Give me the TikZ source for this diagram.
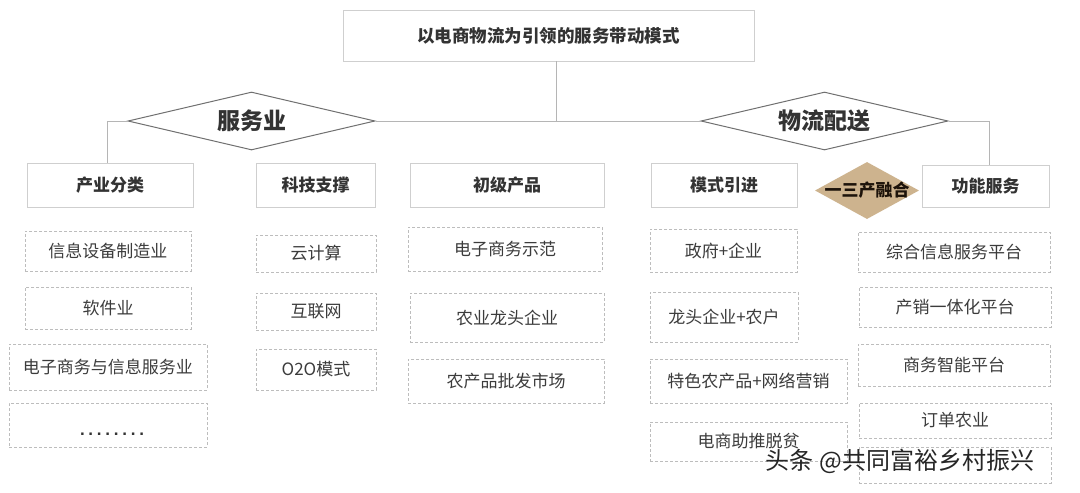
\documentclass[tikz,border=0pt]{standalone}
\usepackage{fontspec}
\setmainfont{Noto Sans CJK SC}
\newfontfamily\cjk{Noto Sans CJK SC}
\newfontfamily\dotfont{Liberation Sans}
\usetikzlibrary{shapes.geometric}
\definecolor{boxline}{HTML}{CFCFCF}
\definecolor{dashline}{HTML}{BDBDBD}
\definecolor{connline}{HTML}{B5B5B5}
\definecolor{dialine}{HTML}{707070}
\definecolor{tan}{HTML}{CDB38E}
\definecolor{txt}{HTML}{333333}
\definecolor{itemtxt}{HTML}{3C3C3C}
\tikzset{
  headbox/.style={draw=boxline, line width=0.9pt, fill=white, inner sep=0pt,
    font=\cjk\fontsize{17}{17}\selectfont\bfseries, text=txt},
  titlebox/.style={headbox, font=\cjk\fontsize{17.5}{18}\selectfont\bfseries},
  itembox/.style={draw=dashline, line width=0.8pt, dash pattern=on 3pt off 2pt,
    fill=white, inner sep=0pt, font=\cjk\fontsize{17}{17}\selectfont, text=itemtxt},
  conn/.style={draw=connline, line width=1pt},
  dia/.style={diamond, aspect=4.26, draw=dialine, line width=1pt, fill=white, inner sep=0pt,
    font=\cjk\fontsize{23}{23}\selectfont\bfseries, text=txt},
  tandia/.style={diamond, aspect=1.82, fill=tan, draw=none, inner sep=0pt},
  tantext/.style={font=\cjk\fontsize{17}{17}\selectfont\bfseries, text=black!85!brown, inner sep=0pt},
}
\begin{document}
\begin{tikzpicture}[x=1pt,y=-1pt]
\useasboundingbox[fill=white] (0,0) rectangle (1080,493);
% title
\node[titlebox, minimum width=411, minimum height=51] (title) at (548.5,35.5) {以电商物流为引领的服务带动模式};
% diamonds
\node[dia, minimum width=247, minimum height=58] (ldia) at (251.5,121) {服务业};
\node[dia, minimum width=247, minimum height=58] (rdia) at (824.5,121) {物流配送};
% categories
\node[headbox, minimum width=166, minimum height=44] (cat1) at (110,185) {产业分类};
\node[headbox, minimum width=119, minimum height=44] (cat2) at (315.5,185) {科技支撑};
\node[headbox, minimum width=194, minimum height=44] (cat3) at (507,185) {初级产品};
\node[headbox, minimum width=146, minimum height=44] (cat4) at (724,185) {模式引进};
\node[headbox, minimum width=127, minimum height=42] (cat5) at (985.5,186) {功能服务};
\node[tandia, minimum width=104, minimum height=57,
  label={[tantext]center:一三产融合}] (fuse) at (867,190.5) {};
% connectors
\coordinate (tj) at (556,121);
\draw[conn] (title.south -| tj) -- (tj);
\draw[conn] (ldia.east) -- (rdia.west);
\draw[conn] (ldia.west) -| ([xshift=-3pt]cat1.north);
\draw[conn] (rdia.east) -| ([xshift=3.5pt]cat5.north);
% column 1
\node[itembox, minimum width=166, minimum height=40] (a1) at (108,251) {信息设备制造业};
\node[itembox, minimum width=166, minimum height=42] (a2) at (108,308) {软件业};
\node[itembox, minimum width=198, minimum height=46] (a3) at (108,367) {电子商务与信息服务业};
\node[itembox, minimum width=198, minimum height=44] (a4) at (108,425) {};
\node[font=\dotfont\fontsize{17}{17}\selectfont\bfseries\addfontfeature{LetterSpace=22}, text=txt, inner sep=0pt, anchor=base] (a4t) at (112,435) {........};
% column 2
\node[itembox, minimum width=120, minimum height=37] (b1) at (316,253.5) {云计算};
\node[itembox, minimum width=120, minimum height=37] (b2) at (316,311.5) {互联网};
\node[itembox, minimum width=120, minimum height=41] (b3) at (316,369.5) {O2O模式};
% column 3
\node[itembox, minimum width=194, minimum height=44] (c1) at (505,249) {电子商务示范};
\node[itembox, minimum width=194, minimum height=49] (c2) at (507,317.5) {农业龙头企业};
\node[itembox, minimum width=196, minimum height=44] (c3) at (506,381) {农产品批发市场};
% column 4
\node[itembox, minimum width=147, minimum height=43] (d1) at (723.5,250.5) {政府+企业};
\node[itembox, minimum width=148, minimum height=50] (d2) at (724,317) {龙头企业+农户};
\node[itembox, minimum width=197, minimum height=44] (d3) at (748.5,381) {特色农产品+网络营销};
\node[itembox, minimum width=197, minimum height=39] (d4) at (748.5,441.5) {电商助推脱贫};
% column 5
\node[itembox, minimum width=192, minimum height=40] (e1) at (954,252) {综合信息服务平台};
\node[itembox, minimum width=192, minimum height=40] (e2) at (955,307) {产销一体化平台};
\node[itembox, minimum width=192, minimum height=42] (e3) at (954,365) {商务智能平台};
\node[itembox, minimum width=192, minimum height=35] (e4) at (955,420.5) {订单农业};
\node[itembox, minimum width=192, minimum height=36] (e5) at (955,465) {};
% watermark
\node[font=\cjk\fontsize{24}{24}\selectfont, text=black!85, inner sep=0pt] (wm) at (900,461) {头条 @共同富裕乡村振兴};
\end{tikzpicture}
\end{document}
